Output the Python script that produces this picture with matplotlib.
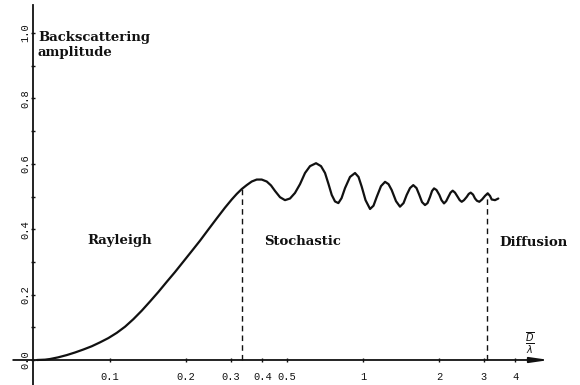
import matplotlib
matplotlib.use('Agg')
import matplotlib.pyplot as plt
import numpy as np

# backscattering amplitude vs D/lambda
size_ratio = [0.05145, 0.05534, 0.05792, 0.06229, 0.06743, 0.07272, 0.07841, 0.08466,
              0.09131, 0.09847, 0.1063, 0.1147, 0.1237, 0.1335, 0.1439, 0.1552,
              0.1675, 0.1806, 0.1949, 0.2103, 0.2268, 0.2446, 0.2640, 0.2847,
              0.3027, 0.3168, 0.3316, 0.3469, 0.3632, 0.3800, 0.3977, 0.4163,
              0.4329, 0.4490, 0.4698, 0.4916, 0.5145, 0.5383, 0.5636, 0.5898,
              0.6172, 0.6520, 0.6823, 0.7077, 0.7306, 0.7522, 0.7750, 0.7990,
              0.8224, 0.8490, 0.8884, 0.9298, 0.9599, 0.9883, 1.023, 1.066,
              1.100, 1.133, 1.178, 1.222, 1.261, 1.298, 1.350, 1.400,
              1.446, 1.488, 1.534, 1.580, 1.627, 1.669, 1.711, 1.758,
              1.799, 1.840, 1.874, 1.909, 1.952, 2.003, 2.043, 2.090,
              2.132, 2.174, 2.218, 2.262, 2.310, 2.367, 2.411, 2.455,
              2.507, 2.570, 2.617, 2.665, 2.722, 2.772, 2.822, 2.882,
              2.954, 3.035, 3.111, 3.177, 3.226, 3.325, 3.426]
amplitude = [0.0, 0.001, 0.003, 0.008, 0.015, 0.023, 0.032, 0.042,
             0.054, 0.067, 0.083, 0.102, 0.125, 0.151, 0.179, 0.208,
             0.239, 0.269, 0.301, 0.333, 0.365, 0.399, 0.433, 0.466,
             0.491, 0.508, 0.523, 0.535, 0.546, 0.552, 0.552, 0.546,
             0.534, 0.517, 0.498, 0.489, 0.494, 0.511, 0.538, 0.572,
             0.593, 0.602, 0.593, 0.572, 0.538, 0.505, 0.485, 0.480,
             0.495, 0.526, 0.560, 0.572, 0.560, 0.530, 0.489, 0.462,
             0.472, 0.499, 0.532, 0.545, 0.538, 0.520, 0.486, 0.469,
             0.480, 0.505, 0.526, 0.535, 0.526, 0.505, 0.483, 0.474,
             0.480, 0.499, 0.517, 0.525, 0.520, 0.505, 0.489, 0.479,
             0.486, 0.499, 0.512, 0.518, 0.512, 0.499, 0.489, 0.484,
             0.489, 0.499, 0.508, 0.512, 0.506, 0.494, 0.487, 0.484,
             0.491, 0.502, 0.510, 0.502, 0.491, 0.489, 0.494]

regime_limits = [0.333, 3.1]
regimes = ['Rayleigh', 'Stochastic', 'Diffusion']
regime_pos = [(0.0811, 0.367), (0.406, 0.364), (3.45, 0.358)]

xticks = [0.1, 0.2, 0.3, 0.4, 0.5, 1, 2, 3, 4]
xticklabels = ['0.1', '0.2', '0.3', '0.4', '0.5', '1', '2', '3', '4']
yticks = [0.0, 0.2, 0.4, 0.6, 0.8, 1.0]
yticklabels = ['0.0', '0.2', '0.4', '0.6', '0.8', '1.0']

ink = '#111111'
serif = dict(family='DejaVu Serif', weight='bold', color=ink)
mono = 'Liberation Mono'

fig = plt.figure(figsize=(5.8, 3.85), dpi=100)
ax = fig.add_axes([33 / 580, 0.0, 512 / 580, 380 / 385])
ax.set_xscale('log')
ax.set_xlim(0.0496, 5.24)
ax.set_ylim(-0.0765, 1.086)

# axes drawn like the original: y line on the left, x line with an arrow at 0
for side in ['top', 'right']:
    ax.spines[side].set_visible(False)
ax.spines['bottom'].set_position(('data', 0))
ax.spines['bottom'].set_visible(False)
ax.spines['left'].set_color(ink)
ax.spines['left'].set_linewidth(1.3)

ax.plot(size_ratio, amplitude, color=ink, lw=1.6, solid_joinstyle='round',
        solid_capstyle='round')

# dashed regime boundaries, up to the curve
logx = np.log10(size_ratio)
for xb in regime_limits:
    top = np.interp(np.log10(xb), logx, amplitude)
    ax.plot([xb, xb], [0, top], color=ink, lw=1.0, ls=(0, (4, 3)))

for name, (xp, yp) in zip(regimes, regime_pos):
    ax.text(xp, yp, name, ha='left', va='center', fontsize=9.5, **serif)

ax.text(0.0519, 1.005, 'Backscattering\namplitude', ha='left', va='top',
        fontsize=9.5, linespacing=1.15, **serif)

ax.annotate('', xy=(5.45, 0), xytext=(0.0414, 0), xycoords='data',
            annotation_clip=False,
            arrowprops=dict(arrowstyle='-|>,head_length=1.1,head_width=0.16',
                            color=ink, lw=1.3, shrinkA=0, shrinkB=0))
ax.text(4.57, 0.05, r'$\frac{\overline{D}}{\lambda}$', ha='center', va='center',
        fontsize=10, color=ink)

ax.set_xticks(xticks)
ax.set_xticklabels(xticklabels, fontfamily=mono, fontsize=7.5, color=ink)
ax.xaxis.set_minor_locator(matplotlib.ticker.NullLocator())
ax.tick_params(axis='x', direction='inout', length=3, width=1, pad=7, colors=ink)

ax.set_yticks(yticks)
ax.set_yticklabels(yticklabels, fontfamily=mono, fontsize=7.5, color=ink,
                   rotation=90, va='center')
ax.set_yticks(np.arange(0.1, 1.0, 0.2), minor=True)
ax.tick_params(axis='y', which='both', direction='inout', length=3, width=1,
               pad=0.5, colors=ink)

fig.savefig('out.png', dpi=100, facecolor='white')
